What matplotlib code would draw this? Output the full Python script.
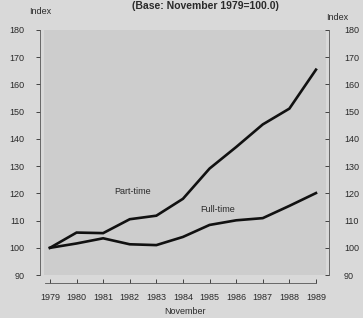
import matplotlib
matplotlib.use("Agg")
import matplotlib.pyplot as plt

plt.rcParams["font.family"] = ["Liberation Sans", "DejaVu Sans"]

years = [1979, 1980, 1981, 1982, 1983, 1984, 1985, 1986, 1987, 1988, 1989]
part_time = [100, 105.6, 105.4, 110.5, 111.8, 118.0, 129.1, 137.0, 145.3, 151.1, 165.4]
full_time = [100, 101.6, 103.5, 101.3, 101.0, 104.0, 108.4, 110.1, 110.9, 115.4, 120.1]
yticks = [90, 100, 110, 120, 130, 140, 150, 160, 170, 180]

ink = "#2a2a2a"
fig = plt.figure(figsize=(3.63, 3.18), dpi=100, facecolor="#d9d9d9")
ax = fig.add_axes([0.121, 0.135, 0.777, 0.771])
ax.set_facecolor("#cdcdcd")
ax.plot(years, part_time, color="#111111", linewidth=1.9, solid_joinstyle="miter")
ax.plot(years, full_time, color="#111111", linewidth=1.9, solid_joinstyle="miter")
ax.set_xlim(1978.774, 1989.376)
ax.set_ylim(90, 180)

ax.set_xticks(years)
ax.set_xticklabels([str(y) for y in years])
ax.set_yticks(yticks)
ax.tick_params(axis="x", direction="in", length=3, width=0.6, pad=7,
               labelsize=6.5, colors=ink)
ax.tick_params(axis="y", direction="out", length=3, width=0.6, pad=8,
               labelsize=6.5, colors=ink)

for s in ["top", "right"]:
    ax.spines[s].set_visible(False)
ax.spines["left"].set_position(("outward", 3))
ax.spines["left"].set_bounds(90, 180)
ax.spines["bottom"].set_position(("outward", 6))
ax.spines["bottom"].set_bounds(1978.8, 1989)
for s in ["left", "bottom"]:
    ax.spines[s].set_color("#555555")
    ax.spines[s].set_linewidth(0.6)

ax2 = ax.twinx()
ax2.set_ylim(90, 180)
ax2.set_yticks(yticks)
ax2.tick_params(axis="y", direction="in", length=3, width=0.6, pad=11,
                labelsize=6.5, colors=ink)
for s in ["top", "left", "bottom"]:
    ax2.spines[s].set_visible(False)
ax2.spines["right"].set_position(("outward", 2))
ax2.spines["right"].set_bounds(90, 180)
ax2.spines["right"].set_color("#555555")
ax2.spines["right"].set_linewidth(0.6)

ax.text(1982.1, 120.5, "Part-time", fontsize=6.5, color=ink, ha="center", va="center")
ax.text(1985.3, 114.0, "Full-time", fontsize=6.5, color=ink, ha="center", va="center")

fig.text(205 / 363, 1 - 6 / 318, "(Base: November 1979=100.0)", fontsize=7.5,
         fontweight="bold", color=ink, ha="center", va="center")
fig.text(40 / 363, 1 - 12 / 318, "Index", fontsize=6.5, color=ink, ha="center", va="center")
fig.text(337 / 363, 1 - 17 / 318, "Index", fontsize=6.5, color=ink, ha="center", va="center")
fig.text(185 / 363, 1 - 312 / 318, "November", fontsize=6.5, color=ink, ha="center", va="center")

fig.savefig("out.png", dpi=100, facecolor=fig.get_facecolor())
